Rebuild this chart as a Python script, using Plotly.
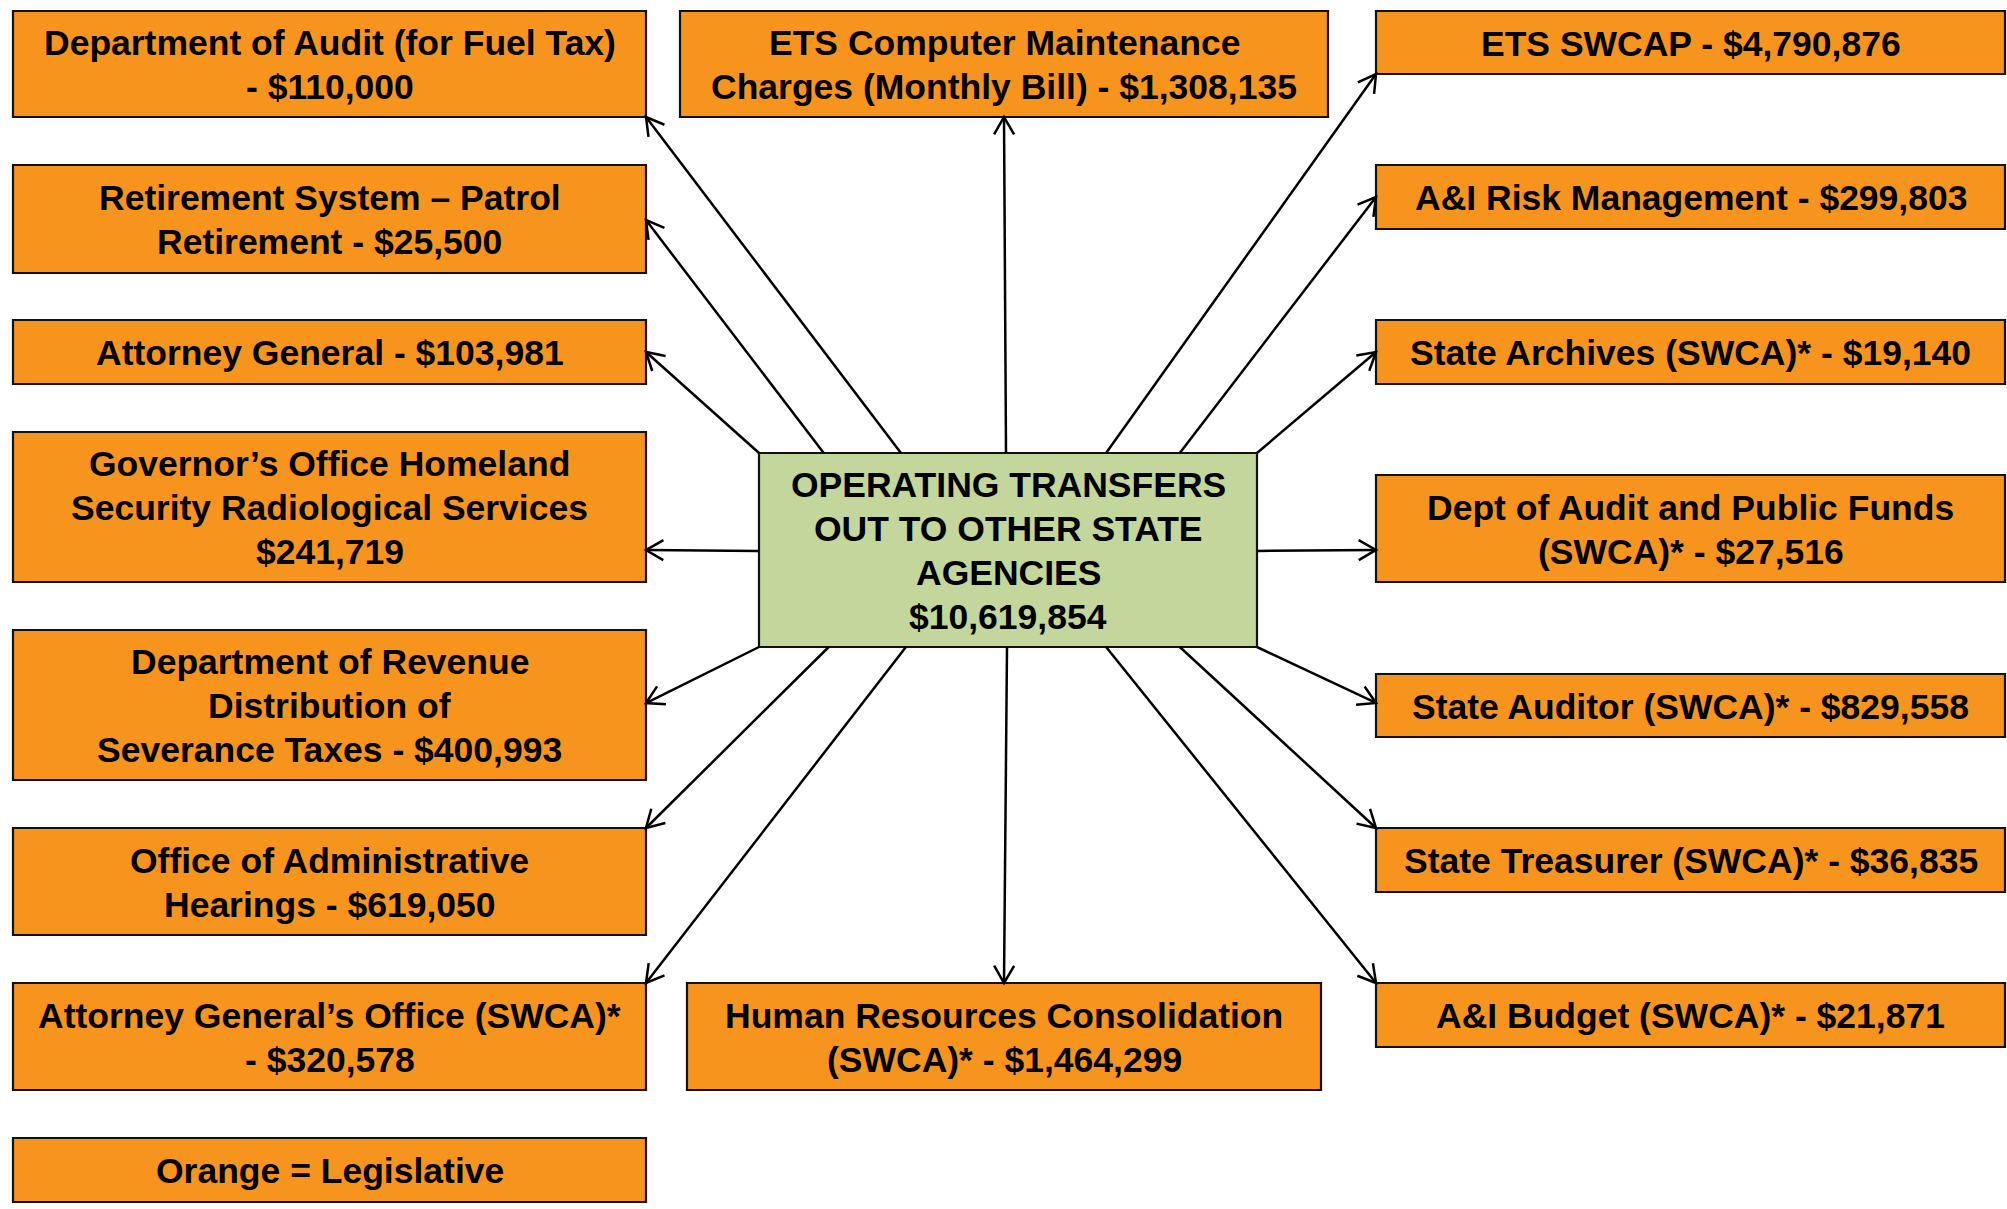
import math
import plotly.graph_objects as go

W, H = 2007, 1209

# ---------------- data ----------------
center_label = "OPERATING TRANSFERS<br>OUT TO OTHER STATE<br>AGENCIES<br>"
center_total = 10619854

agency_labels = [
    "Department of Audit (for Fuel Tax)<br>- ",
    "Retirement System \u2013 Patrol<br>Retirement - ",
    "Attorney General - ",
    "Governor\u2019s Office Homeland<br>Security Radiological Services<br>",
    "Department of Revenue<br>Distribution of<br>Severance Taxes - ",
    "Office of Administrative<br>Hearings - ",
    "Attorney General\u2019s Office (SWCA)*<br>- ",
    "ETS Computer Maintenance<br>Charges (Monthly Bill) - ",
    "Human Resources Consolidation<br>(SWCA)* - ",
    "ETS SWCAP - ",
    "A&I Risk Management - ",
    "State Archives (SWCA)* - ",
    "Dept of Audit and Public Funds<br>(SWCA)* - ",
    "State Auditor (SWCA)* - ",
    "State Treasurer (SWCA)* - ",
    "A&I Budget (SWCA)* - ",
]
agency_amounts = [110000, 25500, 103981, 241719, 400993, 619050, 320578,
                  1308135, 1464299, 4790876, 299803, 19140, 27516, 829558,
                  36835, 21871]
legend_label = "Orange = Legislative"

# ---------------- layout (pixel geometry) ----------------
LX0, LX1 = 13, 646
RX0, RX1 = 1376, 2005
agency_boxes = [
    (LX0, 11, LX1, 117),
    (LX0, 165, LX1, 273),
    (LX0, 320, LX1, 384),
    (LX0, 432, LX1, 582),
    (LX0, 630, LX1, 780),
    (LX0, 828, LX1, 935),
    (LX0, 983, LX1, 1090),
    (680, 11, 1328, 117),
    (687, 983, 1321, 1090),
    (RX0, 11, RX1, 74),
    (RX0, 165, RX1, 229),
    (RX0, 320, RX1, 384),
    (RX0, 475, RX1, 582),
    (RX0, 674, RX1, 737),
    (RX0, 828, RX1, 892),
    (RX0, 983, RX1, 1047),
]
legend_box = (LX0, 1138, LX1, 1202)
center_box = (759, 453, 1257, 647)

# arrow anchors as fractions: (start on centre box), (end on target box)
arrow_anchors = [
    ((0.285, 0.0), (1.0, 1.0)),
    ((0.13, 0.0), (1.0, 0.51)),
    ((0.0, 0.0), (1.0, 0.5)),
    ((0.0, 0.505), (1.0, 0.787)),
    ((0.0, 1.0), (1.0, 0.487)),
    ((0.14, 1.0), (1.0, 0.0)),
    ((0.295, 1.0), (1.0, 0.0)),
    ((0.496, 0.0), (0.5, 1.0)),
    ((0.498, 1.0), (0.5, 0.0)),
    ((0.697, 0.0), (0.0, 1.0)),
    ((0.845, 0.0), (0.0, 0.5)),
    ((1.0, 0.0), (0.0, 0.5)),
    ((1.0, 0.505), (0.0, 0.70)),
    ((1.0, 1.0), (0.0, 0.46)),
    ((0.845, 1.0), (0.0, 0.0)),
    ((0.697, 1.0), (0.0, 0.0)),
]

ORANGE = "#F7941E"
GREEN = "#C3D69B"
FONT = dict(family="Liberation Sans, Arial, sans-serif", size=35.5,
            color="black", weight="bold")
LINE_GAP = 44


def pt(box, f):
    x0, y0, x1, y1 = box
    return x0 + f[0] * (x1 - x0), y0 + f[1] * (y1 - y0)


fig = go.Figure()
shapes = []
annotations = []


def add_box(box, fill, text):
    x0, y0, x1, y1 = box
    shapes.append(dict(type="rect", xref="x", yref="y", x0=x0, y0=y0, x1=x1, y1=y1,
                       fillcolor=fill, line=dict(color="#111111", width=2.2),
                       layer="above"))
    lines = text.split("<br>")
    n = len(lines)
    cy = (y0 + y1) / 2 + 1
    for i, ln in enumerate(lines):
        annotations.append(dict(x=(x0 + x1) / 2, y=cy + (i - (n - 1) / 2) * LINE_GAP,
                                xref="x", yref="y", text=ln, showarrow=False,
                                xanchor="center", yanchor="middle", align="center",
                                font=FONT))


for label, amount, box in zip(agency_labels, agency_amounts, agency_boxes):
    add_box(box, ORANGE, f"{label}${amount:,}")
add_box(legend_box, ORANGE, legend_label)
add_box(center_box, GREEN, f"{center_label}${center_total:,}")

# arrows
L, TH = 20, math.radians(30)
for (sf, ef), box in zip(arrow_anchors, agency_boxes):
    sx, sy = pt(center_box, sf)
    ex, ey = pt(box, ef)
    dx, dy = sx - ex, sy - ey
    n = math.hypot(dx, dy)
    ux, uy = dx / n, dy / n
    arms = []
    for s in (1, -1):
        c, si = math.cos(s * TH), math.sin(s * TH)
        ax = ex + L * (ux * c - uy * si)
        ay = ey + L * (ux * si + uy * c)
        arms.append((ax, ay))
    shapes.append(dict(type="line", xref="x", yref="y", x0=sx, y0=sy, x1=ex, y1=ey,
                       line=dict(color="black", width=2.5), layer="above"))
    path = f"M {arms[0][0]:.2f} {arms[0][1]:.2f} L {ex:.2f} {ey:.2f} L {arms[1][0]:.2f} {arms[1][1]:.2f}"
    shapes.append(dict(type="path", xref="x", yref="y", path=path,
                       line=dict(color="black", width=2.5), layer="above"))

fig.update_layout(
    width=W, height=H, autosize=False,
    margin=dict(l=0, r=0, t=0, b=0, pad=0),
    paper_bgcolor="white", plot_bgcolor="white",
    xaxis=dict(range=[0, W], visible=False, fixedrange=True),
    yaxis=dict(range=[H, 0], visible=False, fixedrange=True),
    shapes=shapes, annotations=annotations, showlegend=False,
)

fig.write_html("out.html", config={"displayModeBar": False},
               post_script="document.body.style.margin='0';document.body.style.overflow='hidden';")
